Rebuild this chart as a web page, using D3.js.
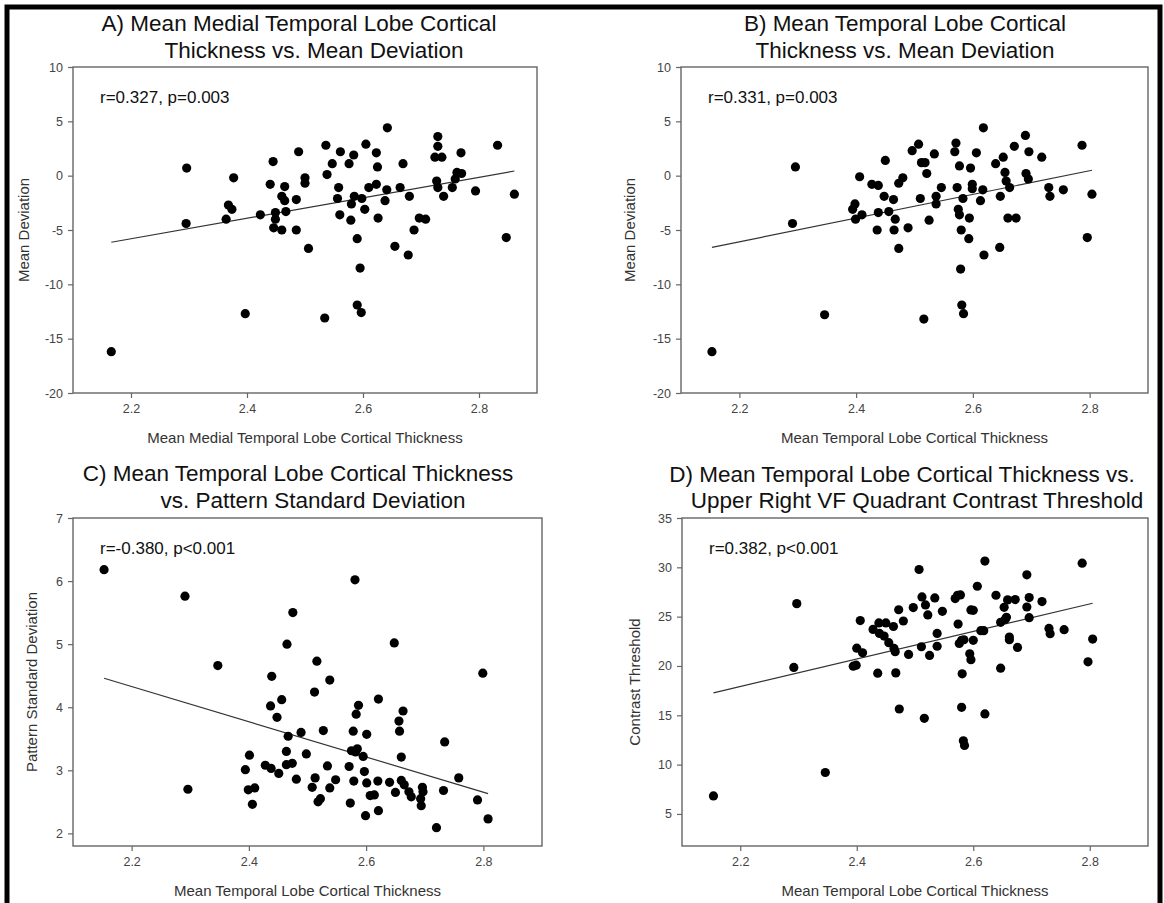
<!DOCTYPE html>
<html>
<head>
<meta charset="utf-8">
<script src="https://cdn.jsdelivr.net/npm/d3@7"></script>
<style>
  body { margin: 0; background: #fff; }
  svg { display: block; font-family: "Liberation Sans", Arial, sans-serif; }
</style>
</head>
<body>
<script>
// ---- data ----
var xTicks = [2.2, 2.4, 2.6, 2.8];

// A) medial temporal thickness vs mean deviation
var thickA = [2.166,2.296,2.295,2.377,2.368,2.374,2.364,2.397,2.423,2.44,2.445,2.449,2.449,2.446,2.46,2.46,2.465,2.465,2.467,2.485,2.485,2.489,2.5,2.5,2.506,2.536,2.538,2.534,2.547,2.561,2.558,2.556,2.56,2.576,2.584,2.58,2.585,2.579,2.59,2.598,2.595,2.59,2.597,2.605,2.603,2.61,2.623,2.625,2.623,2.626,2.642,2.641,2.638,2.655,2.664,2.669,2.68,2.678,2.688,2.697,2.708,2.724,2.729,2.729,2.727,2.729,2.736,2.739,2.754,2.759,2.762,2.77,2.769,2.794,2.832,2.847,2.861];
var mdA = [-16.2,0.7,-4.4,-0.2,-2.7,-3.1,-4.0,-12.7,-3.6,-0.8,1.3,-3.4,-4.0,-4.8,-5.0,-1.9,-2.3,-1.0,-3.3,-2.2,-5.0,2.2,-0.2,-0.7,-6.7,2.8,0.1,-13.1,1.1,2.2,-1.1,-2.1,-3.6,1.1,1.9,-2.6,-1.9,-4.1,-5.8,-2.1,-8.5,-11.9,-12.6,2.9,-3.1,-1.1,2.1,0.8,-0.8,-3.9,4.4,-1.3,-2.3,-6.5,-1.1,1.1,-1.9,-7.3,-5.0,-3.9,-4.0,1.7,3.6,2.7,-0.5,-1.1,1.7,-1.9,-1.1,-0.3,0.3,0.2,2.1,-1.4,2.8,-5.7,-1.7];
var fitA = [[2.166, -6.13], [2.861, 0.43]];

// B) temporal thickness vs mean deviation
var thickB = [2.153,2.296,2.291,2.346,2.406,2.398,2.394,2.399,2.41,2.427,2.438,2.45,2.448,2.438,2.436,2.456,2.464,2.467,2.465,2.473,2.48,2.473,2.489,2.496,2.507,2.51,2.512,2.518,2.521,2.525,2.516,2.534,2.537,2.537,2.546,2.569,2.571,2.573,2.577,2.575,2.577,2.583,2.58,2.579,2.581,2.584,2.596,2.599,2.599,2.594,2.593,2.606,2.617,2.613,2.618,2.619,2.639,2.647,2.646,2.652,2.655,2.657,2.663,2.66,2.674,2.671,2.69,2.691,2.695,2.696,2.718,2.73,2.732,2.755,2.787,2.796,2.804];
var mdB = [-16.2,0.8,-4.4,-12.8,-0.1,-2.6,-3.1,-4.0,-3.6,-0.8,-0.9,1.4,-1.9,-3.4,-5.0,-3.3,-2.2,-4.0,-5.0,-0.7,-0.2,-6.7,-4.8,2.3,2.9,-2.1,1.2,1.2,0.2,-4.1,-13.2,2.0,-1.9,-2.6,-1.1,2.2,3.0,-1.1,0.9,-3.1,-3.6,-2.1,-5.0,-8.6,-11.9,-12.7,0.7,-0.8,-1.2,-3.9,-5.8,2.1,-1.3,-2.3,4.4,-7.3,1.1,-1.9,-6.6,1.7,0.3,-0.5,-1.1,-3.9,-3.9,2.7,3.7,0.2,-0.3,2.2,1.7,-1.1,-1.9,-1.3,2.8,-5.7,-1.7];
var fitB = [[2.153, -6.6], [2.804, 0.5]];

// C) temporal thickness vs pattern standard deviation
var thickC = [2.153,2.291,2.296,2.347,2.394,2.401,2.399,2.41,2.406,2.428,2.438,2.437,2.439,2.448,2.451,2.456,2.465,2.475,2.467,2.464,2.464,2.474,2.481,2.489,2.498,2.508,2.513,2.512,2.516,2.518,2.522,2.527,2.534,2.538,2.538,2.548,2.571,2.573,2.575,2.578,2.581,2.579,2.582,2.585,2.583,2.587,2.595,2.597,2.599,2.601,2.601,2.607,2.614,2.62,2.621,2.621,2.64,2.648,2.65,2.656,2.657,2.66,2.663,2.66,2.665,2.673,2.677,2.694,2.696,2.697,2.693,2.72,2.732,2.734,2.758,2.79,2.799,2.808];
var psdC = [6.18,5.76,2.70,4.66,3.01,3.24,2.69,2.72,2.46,3.08,3.03,4.02,4.49,3.84,2.95,4.12,5.0,5.5,3.54,3.30,3.09,3.11,2.86,3.60,3.26,2.73,2.88,4.24,4.73,2.50,2.55,3.63,3.07,4.43,2.72,2.85,3.06,2.48,3.31,3.62,6.02,2.83,3.29,3.34,3.89,4.03,3.22,2.98,2.28,3.57,2.80,2.60,2.61,2.83,4.13,2.36,2.81,5.02,2.65,3.78,3.62,3.21,3.94,2.84,2.77,2.66,2.58,2.44,2.73,2.66,2.55,2.09,2.68,3.45,2.88,2.53,4.54,2.23];
var fitC = [[2.153, 4.46], [2.808, 2.63]];

// D) temporal thickness vs upper right quadrant contrast threshold
var thickD = [2.154,2.292,2.297,2.346,2.394,2.399,2.4,2.41,2.406,2.428,2.436,2.438,2.439,2.45,2.447,2.455,2.463,2.464,2.466,2.467,2.472,2.473,2.48,2.489,2.497,2.507,2.512,2.511,2.518,2.522,2.525,2.516,2.534,2.538,2.538,2.547,2.569,2.573,2.578,2.574,2.576,2.58,2.584,2.581,2.58,2.583,2.585,2.594,2.596,2.596,2.6,2.6,2.607,2.613,2.618,2.62,2.62,2.639,2.647,2.647,2.653,2.655,2.657,2.659,2.662,2.662,2.672,2.676,2.692,2.692,2.696,2.696,2.718,2.73,2.732,2.756,2.787,2.797,2.805];
var ctD = [6.83,19.85,26.32,9.2,19.98,20.08,21.8,21.34,24.6,23.7,19.27,24.36,23.3,24.36,23.03,22.36,24.0,21.78,21.44,19.3,25.7,15.64,24.56,21.17,25.92,29.78,27.0,21.95,26.19,25.17,21.07,14.69,26.9,23.3,22.0,25.54,26.83,27.17,27.2,24.25,22.29,22.6,22.66,19.2,15.81,12.42,11.95,21.24,20.63,25.68,25.64,22.6,28.08,23.58,23.58,30.63,15.14,27.17,24.42,19.78,25.95,24.73,24.93,26.7,22.93,22.66,26.73,21.88,29.24,25.98,26.93,24.9,26.53,23.81,23.27,23.68,30.42,20.42,22.73];
var fitD = [[2.154, 17.27], [2.805, 26.36]];

var titles = [
  ["A) Mean Medial Temporal Lobe Cortical", "Thickness vs. Mean Deviation"],
  ["B) Mean Temporal Lobe Cortical", "Thickness vs. Mean Deviation"],
  ["C) Mean Temporal Lobe Cortical Thickness", "vs. Pattern Standard Deviation"],
  ["D) Mean Temporal Lobe Cortical Thickness vs.", "Upper Right VF Quadrant Contrast Threshold"]
];
var statTexts = ["r=0.327, p=0.003", "r=0.331, p=0.003", "r=-0.380, p<0.001", "r=0.382, p<0.001"];
var xLabels = ["Mean Medial Temporal Lobe Cortical Thickness", "Mean Temporal Lobe Cortical Thickness",
               "Mean Temporal Lobe Cortical Thickness", "Mean Temporal Lobe Cortical Thickness"];
var yLabels = ["Mean Deviation", "Mean Deviation", "Pattern Standard Deviation", "Contrast Threshold"];
var yTicksMD = [-20, -15, -10, -5, 0, 5, 10];
var yTicksPSD = [2, 3, 4, 5, 6, 7];
var yTicksCT = [5, 10, 15, 20, 25, 30, 35];

var width = 1164, height = 903;

var svg = d3.select("body").append("svg")
    .attr("width", width)
    .attr("height", height);

svg.append("rect").attr("width", width).attr("height", height).attr("fill", "#fff");

// panel boxes + title placement
var panels = [
  {x: thickA, y: mdA, fit: fitA, yDom: [-20, 10], yTicks: yTicksMD,
   box: {l: 73, t: 67, r: 537, b: 393}, tc: [299, 314], tb: [31, 58], yl: 25},
  {x: thickB, y: mdB, fit: fitB, yDom: [-20, 10], yTicks: yTicksMD,
   box: {l: 681, t: 67, r: 1148, b: 393}, tc: [905, 905], tb: [31, 58], yl: 631},
  {x: thickC, y: psdC, fit: fitC, yDom: [1.8, 7], yTicks: yTicksPSD,
   box: {l: 73, t: 518, r: 542, b: 846}, tc: [298, 313], tb: [481, 508], yl: 33},
  {x: thickD, y: ctD, fit: fitD, yDom: [1.75, 35], yTicks: yTicksCT,
   box: {l: 682, t: 518, r: 1148, b: 846}, tc: [902, 917], tb: [482, 508], yl: 636}
];

var intFmt = function(d) { return String(d); };   // plain hyphen minus like the source

panels.forEach(function(p, i) {
  var b = p.box;
  var xScale = d3.scaleLinear().domain([2.1, 2.9]).range([b.l, b.r]);
  var yScale = d3.scaleLinear().domain(p.yDom).range([b.b, b.t]);

  // title, two lines
  titles[i].forEach(function(line, k) {
    svg.append("text")
      .attr("x", p.tc[k])
      .attr("y", p.tb[k])
      .attr("text-anchor", "middle")
      .attr("font-size", 22.5)
      .attr("fill", "#111")
      .text(line);
  });

  // frame
  svg.append("rect")
    .attr("x", b.l).attr("y", b.t)
    .attr("width", b.r - b.l).attr("height", b.b - b.t)
    .attr("fill", "none")
    .attr("stroke", "#666")
    .attr("stroke-width", 1.4);

  var axisX = d3.axisBottom(xScale).tickValues(xTicks).tickSize(5).tickPadding(6)
      .tickFormat(d3.format(".1f"));
  var axisY = d3.axisLeft(yScale).tickValues(p.yTicks).tickSize(5).tickPadding(5)
      .tickFormat(intFmt);

  var gx = svg.append("g").attr("transform", "translate(0," + b.b + ")").call(axisX);
  var gy = svg.append("g").attr("transform", "translate(" + b.l + ",0)").call(axisY);
  [gx, gy].forEach(function(g) {
    g.select(".domain").remove();
    g.selectAll("line").attr("stroke", "#666").attr("stroke-width", 1.2);
    g.selectAll("text").attr("font-size", 12.5).attr("fill", "#444")
      .attr("font-family", "Liberation Sans, Arial, sans-serif");
  });

  // axis titles
  svg.append("text")
    .attr("x", (b.l + b.r) / 2)
    .attr("y", b.b + 50)
    .attr("text-anchor", "middle")
    .attr("font-size", 15)
    .attr("fill", "#333")
    .text(xLabels[i]);

  svg.append("text")
    .attr("transform", "translate(" + p.yl + "," + ((b.t + b.b) / 2) + ") rotate(-90)")
    .attr("text-anchor", "middle")
    .attr("dominant-baseline", "middle")
    .attr("font-size", 15)
    .attr("fill", "#333")
    .text(yLabels[i]);

  // stat annotation
  svg.append("text")
    .attr("x", b.l + 27)
    .attr("y", b.t + 36)
    .attr("font-size", 17)
    .attr("fill", "#111")
    .text(statTexts[i]);

  // regression line
  svg.append("line")
    .attr("x1", xScale(p.fit[0][0])).attr("y1", yScale(p.fit[0][1]))
    .attr("x2", xScale(p.fit[1][0])).attr("y2", yScale(p.fit[1][1]))
    .attr("stroke", "#333")
    .attr("stroke-width", 1.2);

  // points
  svg.append("g").selectAll("circle")
    .data(d3.zip(p.x, p.y))
    .join("circle")
    .attr("cx", function(d) { return xScale(d[0]); })
    .attr("cy", function(d) { return yScale(d[1]); })
    .attr("r", 4.6)
    .attr("fill", "#000");
});

// thick outer border (bottom edge is cut off in the source)
svg.append("path")
  .attr("d", "M7,910 L7,7 L1160,7 L1160,910")
  .attr("fill", "none")
  .attr("stroke", "#000")
  .attr("stroke-width", 5);
</script>
</body>
</html>
